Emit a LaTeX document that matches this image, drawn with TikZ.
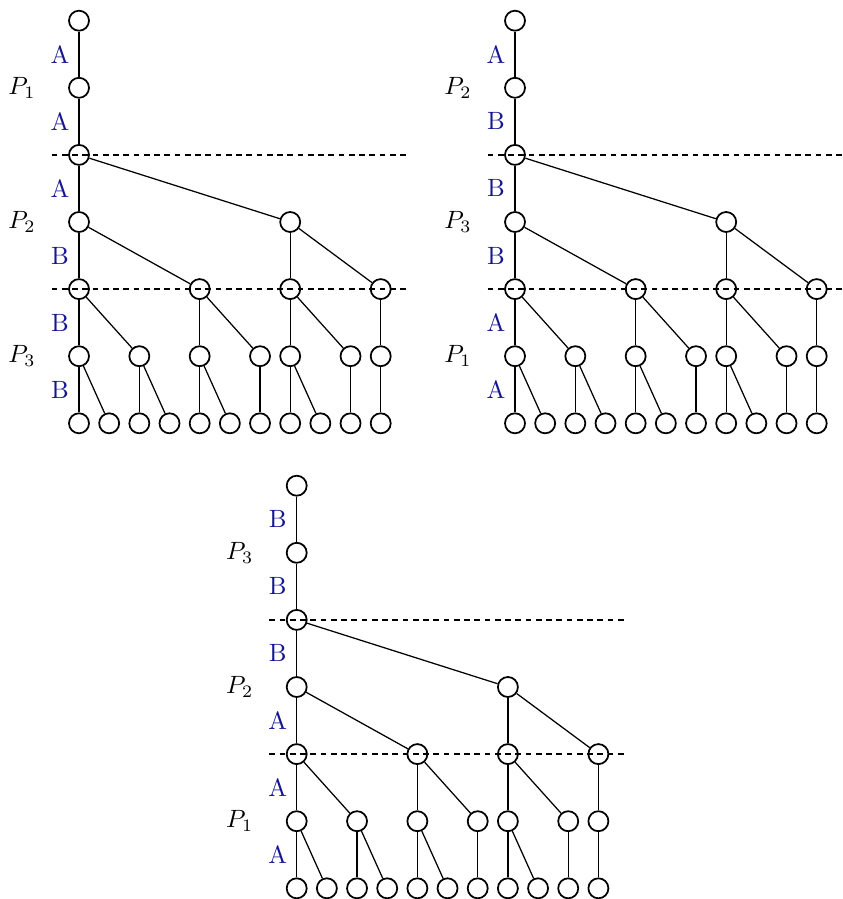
\documentclass[tikz,border=0pt]{standalone}
\definecolor{labblue}{RGB}{22,22,145}
\tikzset{
  vert/.style={circle, draw, line width=0.7pt, minimum size=8pt, inner sep=0pt},
  treeline/.style={line width=0.5pt},
  splitline/.style={line width=0.5pt, dash pattern=on 2.3pt off 1.8pt},
  movelabel/.style={text=labblue, inner sep=0pt},
  playerlabel/.style={inner sep=0pt},
}
% #1 name prefix, #2 shift, #3 player labels (3), #4 move labels (6)
\newcommand\gametree[4]{%
  \begin{scope}[shift={#2}]
    \foreach \row/\cols in {0/{0},1/{0},2/{0},3/{0,7},4/{0,4,7,10},5/{0,2,4,6,7,9,10},6/{0,1,2,3,4,5,6,7,8,9,10}}{
      \foreach \col in \cols {
        \node[vert] (#1-\row-\col) at ({79+30.17*\col},{20.7+67.1*\row}) {};
      }
    }
    \foreach \pr/\pc/\kc in {0/0/0,1/0/0,2/0/0,2/0/7,3/0/0,3/0/4,3/7/7,3/7/10,
                             4/0/0,4/0/2,4/4/4,4/4/6,4/7/7,4/7/9,4/10/10,
                             5/0/0,5/0/1,5/2/2,5/2/3,5/4/4,5/4/5,5/6/6,5/7/7,5/7/8,5/9/9,5/10/10}{
      \pgfmathtruncatemacro\krow{\pr+1}
      \draw[treeline] (#1-\pr-\pc) -- (#1-\krow-\kc);
    }
    \foreach \lab [count=\i from 0] in {#3}{
      \node[playerlabel] (#1-p\i) at (22,{20.7+67.1*(2*\i+1)}) {$\lab$};
    }
    \foreach \lab [count=\i from 0] in {#4}{
      \node[movelabel] (#1-m\i) at (60,{20.7+67.1*(\i+0.5)}) {\lab};
    }
    \foreach \row in {2,4}{
      \coordinate (#1-s\row a) at (51.7,{20.7+67.1*\row});
      \coordinate (#1-s\row b) at (408,{20.7+67.1*\row});
      \draw[splitline] (#1-s\row a) -- (#1-s\row b);
    }
  \end{scope}
}
\begin{document}
\begin{tikzpicture}[x=0.4pt, y=-0.4pt]
  \useasboundingbox (0,0) rectangle (842,899);
  \gametree{ta}{(0,0)}{P_1,P_2,P_3}{A,A,A,B,B,B}
  \gametree{tb}{(436,0)}{P_2,P_3,P_1}{A,B,B,B,A,A}
  \gametree{tc}{(217.7,465)}{P_3,P_2,P_1}{B,B,B,A,A,A}
\end{tikzpicture}
\end{document}
